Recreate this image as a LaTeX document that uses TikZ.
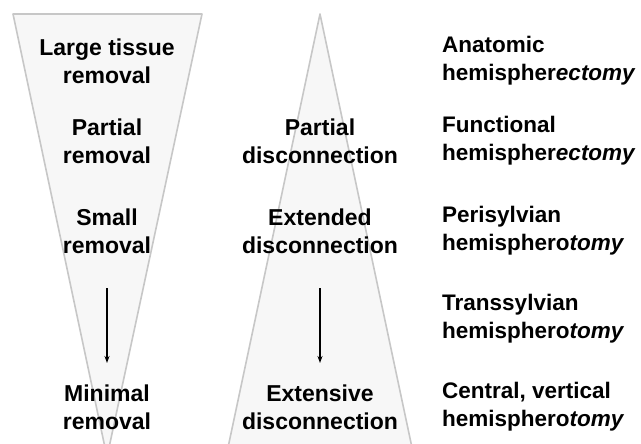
\documentclass[tikz,border=0pt]{standalone}
\usepackage{fontspec}
\setmainfont{Liberation Sans}
\usetikzlibrary{arrows.meta}
\begin{document}
\begin{tikzpicture}[%
x=1pt, y=-1pt, >={Stealth[length=7pt,width=5pt]},
wedge/.style={draw=black!22, fill=black!3, line width=1.6pt, line join=round},
level/.style={font=\fontsize{23}{28}\selectfont\bfseries, align=center, inner sep=0pt},
method/.style={font=\fontsize{22.5}{28}\selectfont\bfseries, align=left, anchor=west, inner sep=0pt},
trend/.style={->, line width=1.4pt}
]
\useasboundingbox (0,0) rectangle (641,444);
\begin{scope}
\clip (0,0) rectangle (641,444);
\draw[wedge] (13,14) -- (202,14) -- (107,457) -- cycle;
\draw[wedge] (320,14) -- (414,457) -- (226,457) -- cycle;
\end{scope}
% removal
\node[level] (rem1) at (107,61) {Large tissue\\removal};
\node[level] (rem2) at (107,141) {Partial\\removal};
\node[level] (rem3) at (107,231) {Small\\removal};
\node[level] (rem4) at (107,407) {Minimal\\removal};
% disconnection
\node[level] (dis2) at (320,141) {Partial\\disconnection};
\node[level] (dis3) at (320,231) {Extended\\disconnection};
\node[level] (dis4) at (320,407) {Extensive\\disconnection};
% procedures
\node[method] (anat) at (442,61) {Anatomic\\hemispher\textit{ectomy}};
\node[method] (func) at (442,141) {Functional\\hemispher\textit{ectomy}};
\node[method] (peri) at (442,231) {Perisylvian\\hemisphero\textit{tomy}};
\node[method] (trans) at (442,319) {Transsylvian\\hemisphero\textit{tomy}};
\node[method] (cent) at (442,407) {Central, vertical\\hemisphero\textit{tomy}};
% arrows
\coordinate (ra) at (107,288);
\coordinate (rb) at (107,363);
\coordinate (da) at (320,288);
\coordinate (db) at (320,363);
\draw[trend] (ra) -- (rb);
\draw[trend] (da) -- (db);
\end{tikzpicture}
\end{document}
